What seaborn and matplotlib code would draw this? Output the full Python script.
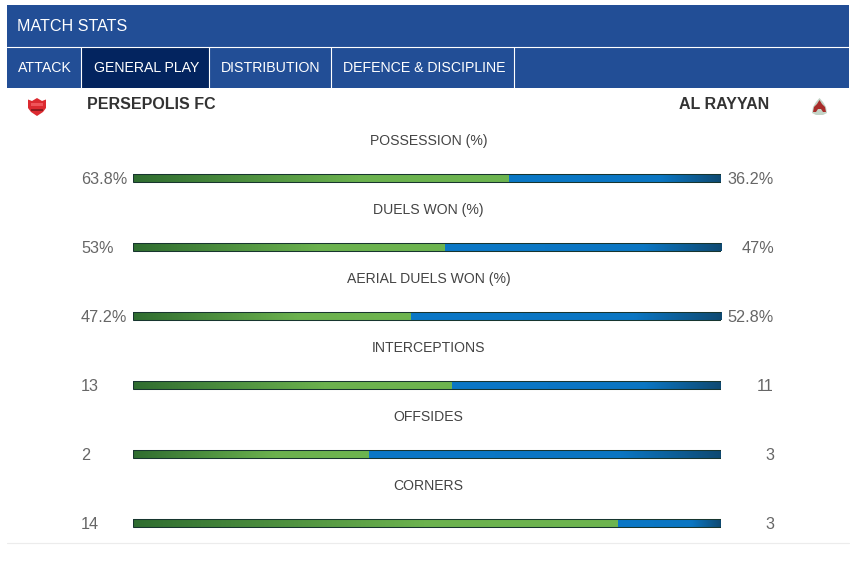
import numpy as np
import pandas as pd
import seaborn as sns
import matplotlib.pyplot as plt
from matplotlib.colors import LinearSegmentedColormap
from matplotlib.patches import Rectangle, Polygon

# data
stats = ["POSSESSION (%)", "DUELS WON (%)", "AERIAL DUELS WON (%)", "INTERCEPTIONS", "OFFSIDES", "CORNERS"]
home_values = [63.8, 53, 47.2, 13, 2, 14]
away_values = [36.2, 47, 52.8, 11, 3, 3]
home_labels = ["63.8%", "53%", "47.2%", "13", "2", "14"]
away_labels = ["36.2%", "47%", "52.8%", "11", "3", "3"]
tabs = ["ATTACK", "GENERAL PLAY", "DISTRIBUTION", "DEFENCE & DISCIPLINE"]
home_team = "PERSEPOLIS FC"
away_team = "AL RAYYAN"

W, H = 854, 566
sns.set_theme(style="white")
plt.rcParams["font.family"] = ["Liberation Sans", "DejaVu Sans"]

fig = plt.figure(figsize=(W / 100, H / 100), dpi=100, facecolor="white")

# page layer in pixels, for the header and the logos
bg = fig.add_axes([0, 0, 1, 1])
bg.set_xlim(0, W)
bg.set_ylim(H, 0)
bg.axis("off")

blue_head = "#224e96"
bg.add_patch(Rectangle((7, 5), 842, 83, color=blue_head, lw=0))
bg.add_patch(Rectangle((82, 47), 127, 41, color="#03245f", lw=0))
bg.plot([7, 849], [46.5, 46.5], color="white", lw=0.8)
for x in [81.5, 209.5, 331.5, 514.5]:
    bg.plot([x, x], [47, 88], color="white", lw=0.8)
bg.plot([7, 849], [542.5, 542.5], color="#ececec", lw=0.8)

bg.text(17, 26.5, "MATCH STATS", color="white", fontsize=11.6, va="center")
for x, tab in zip([18, 94, 221, 343], tabs):
    bg.text(x, 67.5, tab, color="white", fontsize=10.15, va="center")

bg.text(87, 104.5, home_team, color="#333333", fontsize=11.5, fontweight="bold", va="center")
bg.text(769, 104.5, away_team, color="#333333", fontsize=11.5, fontweight="bold", va="center", ha="right")

# logos
bg.add_patch(Polygon([(28, 99.5), (32, 101), (37, 98), (42, 101), (46, 99.5), (46, 108), (43, 112), (37, 116),
                      (31, 112), (28, 108)], color="#dc2a30", lw=0))
bg.add_patch(Rectangle((31, 103), 12, 3, color="#f0555a", lw=0))
bg.add_patch(Rectangle((31, 108.5), 12, 2, color="#8e1a1e", lw=0))
bg.add_patch(Polygon([(819.5, 98), (823, 102), (826, 107), (827, 113), (823, 115), (816, 115), (812, 113),
                      (813, 107), (816, 102)], color="#c3d3c6", lw=0))
bg.add_patch(Polygon([(819.5, 100), (822, 104), (825, 107), (826, 112), (823, 112), (821, 109), (818, 109),
                      (816, 112), (813, 112), (814, 107), (817, 104)], color="#a82c2a", lw=0))

# bars
ax = fig.add_axes([133 / W, 1 - 557.5 / H, 588 / W, 414 / H])
ax.patch.set_alpha(0)

shares = [h / (h + a) for h, a in zip(home_values, away_values)]
df = pd.DataFrame({"stat": stats, "share": shares, "total": [1.0] * len(stats)})

green_cmap = LinearSegmentedColormap.from_list("g", [(0, "#2f6d30"), (0.6, "#6bb24e"), (1, "#6db550")])
blue_cmap = LinearSegmentedColormap.from_list("b", [(0, "#0a78c6"), (0.72, "#0a76c2"), (1, "#0f4a72")])
ramp = np.linspace(0, 1, 256).reshape(1, -1)

sns.barplot(data=df, x="total", y="stat", orient="y", width=0.13, color="#0a78c6", ax=ax, linewidth=0)
sns.barplot(data=df, x="share", y="stat", orient="y", width=0.13, color="#6bb24e", ax=ax, linewidth=0)
sns.barplot(data=df, x="total", y="stat", orient="y", width=0.13, fill=False, color="#17352f", ax=ax, linewidth=0.75)

for bar, share in zip(ax.containers[0], shares):
    y = bar.get_y()
    img = ax.imshow(ramp, cmap=blue_cmap, extent=(share, 1, y + bar.get_height(), y), aspect="auto", zorder=1.5)
    img.set_clip_path(bar)
for bar in ax.containers[1]:
    y = bar.get_y()
    img = ax.imshow(ramp, cmap=green_cmap, extent=(0, bar.get_width(), y + bar.get_height(), y),
                    aspect="auto", zorder=1.6)
    img.set_clip_path(bar)
for bar in ax.containers[2]:
    bar.set_zorder(3)

ax.set_xlim(0, 1)
ax.set_ylim(5.5, -0.5)
ax.axis("off")

for i, stat in enumerate(stats):
    ax.text(0.5 + 1.5 / 588, i - 0.54, stat, color="#444444", fontsize=10.05, ha="center", va="center")
    ax.text(-52 / 588, i + 0.02, home_labels[i], color="#666666", fontsize=11.7, ha="left", va="center", clip_on=False)
    ax.text(1 + 53 / 588, i + 0.02, away_labels[i], color="#666666", fontsize=11.7, ha="right", va="center", clip_on=False)

fig.savefig("out.png", dpi=100, facecolor="white")
